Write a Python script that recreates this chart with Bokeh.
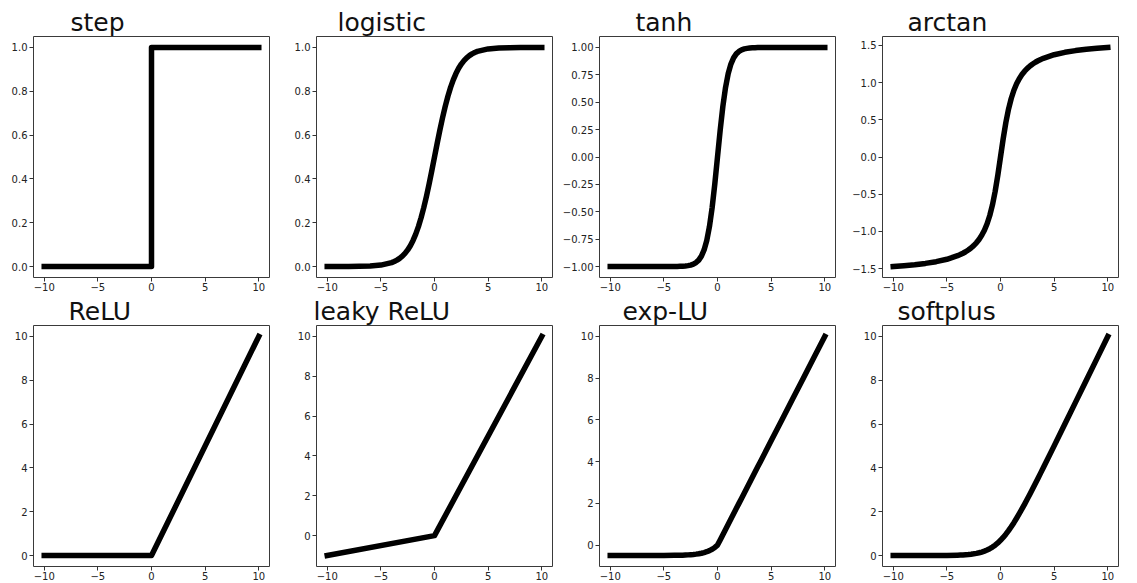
from bokeh.plotting import figure
from bokeh.layouts import column, row
from bokeh.models import Title, FixedTicker, CustomJSTickFormatter, Range1d
from bokeh.embed import file_html
from bokeh.resources import INLINE

# ---- data ----
x_grid = [-10, -9, -8, -7, -6, -5, -4, -3.75, -3.5, -3.25, -3, -2.75, -2.5, -2.25,
          -2, -1.75, -1.5, -1.25, -1, -0.75, -0.5, -0.25, 0, 0.25, 0.5, 0.75, 1,
          1.25, 1.5, 1.75, 2, 2.25, 2.5, 2.75, 3, 3.25, 3.5, 3.75, 4, 5, 6, 7, 8, 9, 10]

step_x = [-10, 0, 0, 10]
step_y = [0, 0, 1, 1]

logistic_y = [0.0, 0.0001, 0.0003, 0.0009, 0.0025, 0.0067, 0.0180, 0.0230, 0.0293, 0.0374,
              0.0474, 0.0601, 0.0759, 0.0953, 0.1192, 0.1480, 0.1824, 0.2227, 0.2689, 0.3208,
              0.3775, 0.4378, 0.5, 0.5622, 0.6225, 0.6792, 0.7311, 0.7773, 0.8176, 0.8520,
              0.8808, 0.9047, 0.9241, 0.9399, 0.9526, 0.9626, 0.9707, 0.9770, 0.9820, 0.9933,
              0.9975, 0.9991, 0.9997, 0.9999, 1.0]

tanh_y = [-1.0, -1.0, -1.0, -1.0, -1.0, -0.9999, -0.9993, -0.9989, -0.9982, -0.9970,
          -0.9951, -0.9918, -0.9866, -0.9780, -0.9640, -0.9414, -0.9051, -0.8483, -0.7616,
          -0.6351, -0.4621, -0.2449, 0.0, 0.2449, 0.4621, 0.6351, 0.7616, 0.8483, 0.9051,
          0.9414, 0.9640, 0.9780, 0.9866, 0.9918, 0.9951, 0.9970, 0.9982, 0.9989, 0.9993,
          0.9999, 1.0, 1.0, 1.0, 1.0, 1.0]

arctan_y = [-1.4711, -1.4601, -1.4464, -1.4289, -1.4056, -1.3734, -1.3258, -1.3102, -1.2925,
            -1.2723, -1.2490, -1.2220, -1.1903, -1.1526, -1.1071, -1.0517, -0.9828, -0.8961,
            -0.7854, -0.6435, -0.4636, -0.2450, 0.0, 0.2450, 0.4636, 0.6435, 0.7854, 0.8961,
            0.9828, 1.0517, 1.1071, 1.1526, 1.1903, 1.2220, 1.2490, 1.2723, 1.2925, 1.3102,
            1.3258, 1.3734, 1.4056, 1.4289, 1.4464, 1.4601, 1.4711]

relu_x = [-10, 0, 10]
relu_y = [0, 0, 10]

leaky_x = [-10, 0, 10]
leaky_y = [-1, 0, 10]

elu_y = [-0.5, -0.4999, -0.4998, -0.4995, -0.4988, -0.4966, -0.4908, -0.4882, -0.4849,
         -0.4806, -0.4751, -0.4680, -0.4590, -0.4473, -0.4323, -0.4131, -0.3884, -0.3567,
         -0.3161, -0.2638, -0.1967, -0.1106, 0.0, 0.25, 0.5, 0.75, 1.0, 1.25, 1.5, 1.75,
         2.0, 2.25, 2.5, 2.75, 3.0, 3.25, 3.5, 3.75, 4.0, 5.0, 6.0, 7.0, 8.0, 9.0, 10.0]

softplus_y = [0.0, 0.0001, 0.0003, 0.0009, 0.0025, 0.0067, 0.0181, 0.0233, 0.0298, 0.0381,
              0.0486, 0.0620, 0.0789, 0.1000, 0.1269, 0.1602, 0.2014, 0.2519, 0.3133, 0.3869,
              0.4741, 0.5759, 0.6931, 0.8259, 0.9741, 1.1369, 1.3133, 1.5019, 1.7014, 1.9102,
              2.1269, 2.3500, 2.5789, 2.8120, 3.0486, 3.2881, 3.5298, 3.7733, 4.0181, 5.0067,
              6.0025, 7.0009, 8.0003, 9.0001, 10.0]

titles = ["step", "logistic", "tanh", "arctan", "ReLU", "leaky ReLU", "exp-LU", "softplus"]
x_ticks = [-10, -5, 0, 5, 10]
y_ticks_unit = [0.0, 0.2, 0.4, 0.6, 0.8, 1.0]
y_ticks_tanh = [-1.0, -0.75, -0.5, -0.25, 0.0, 0.25, 0.5, 0.75, 1.0]
y_ticks_arctan = [-1.5, -1.0, -0.5, 0.0, 0.5, 1.0, 1.5]
y_ticks_lin = [0, 2, 4, 6, 8, 10]

series = [
    (step_x, step_y, y_ticks_unit, 1, (-0.05, 1.05)),
    (x_grid, logistic_y, y_ticks_unit, 1, (-0.05, 1.05)),
    (x_grid, tanh_y, y_ticks_tanh, 2, (-1.1, 1.1)),
    (x_grid, arctan_y, y_ticks_arctan, 1, (-1.6182, 1.6182)),
    (relu_x, relu_y, y_ticks_lin, 0, (-0.5, 10.5)),
    (leaky_x, leaky_y, y_ticks_lin, 0, (-1.55, 10.55)),
    (x_grid, elu_y, y_ticks_lin, 0, (-1.025, 10.525)),
    (x_grid, softplus_y, y_ticks_lin, 0, (-0.5, 10.5)),
]

# layout / style constants
FRAME_W = 236
LEFTS = [33, 42, 42, 42]
RIGHTS = [5, 5, 5, 19]
TOPS = [36, 31]
BOTTOMS = [17, 17]
FRAME_H = 241
TITLE_OFFSETS = [37, 21, 36, 25, 35, -3, 23, 15]
TICK_FONT = "DejaVu Sans"


def make_fig(i):
    xs, ys, yt, dec, yr = series[i]
    r, c = divmod(i, 4)
    w = LEFTS[c] + FRAME_W + RIGHTS[c]
    h = TOPS[r] + FRAME_H + BOTTOMS[r]
    t = Title(text=titles[i], align="left", offset=TITLE_OFFSETS[i], standoff=0,
              text_font="DejaVu Sans", text_font_size="25px", text_font_style="normal",
              text_color="#111111", vertical_align="bottom")
    p = figure(width=w, height=h, output_backend="svg", toolbar_location=None,
               x_range=Range1d(-11, 11), y_range=Range1d(*yr), title=t,
               min_border_left=LEFTS[c], min_border_right=RIGHTS[c],
               min_border_top=TOPS[r], min_border_bottom=BOTTOMS[r])
    p.xgrid.visible = False
    p.ygrid.visible = False
    p.background_fill_color = "white"
    p.border_fill_color = "white"
    p.outline_line_color = "#3a3a3a"
    p.outline_line_width = 1
    p.line(xs, ys, line_color="black", line_width=5.5, line_join="round", line_cap="square")

    p.xaxis.ticker = FixedTicker(ticks=x_ticks)
    p.yaxis.ticker = FixedTicker(ticks=yt)
    p.xaxis.formatter = CustomJSTickFormatter(code="return tick.toFixed(0).replace('-', '\u2212')")
    p.yaxis.formatter = CustomJSTickFormatter(
        args=dict(d=dec), code="return tick.toFixed(d).replace('-', '\u2212')")
    for ax in (p.xaxis[0], p.yaxis[0]):
        ax.axis_line_color = None
        ax.major_tick_in = 0
        ax.major_tick_out = 4
        ax.major_tick_line_color = "#333333"
        ax.minor_tick_line_color = None
        ax.major_label_text_font = TICK_FONT
        ax.major_label_text_font_size = "10px"
        ax.major_label_text_color = "#222222"
        ax.major_label_standoff = 2
    p.xaxis.major_label_standoff = 1
    return p


figs = [make_fig(i) for i in range(8)]
layout = column(row(*figs[:4], spacing=0), row(*figs[4:], spacing=0), spacing=0)

open("out.html", "w").write(file_html(layout, INLINE))
